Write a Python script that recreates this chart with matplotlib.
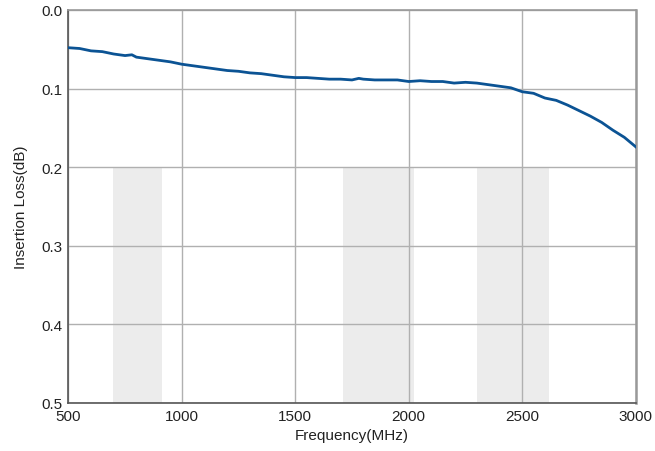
import numpy as np
import matplotlib.pyplot as plt

plt.rcParams['font.family'] = ['Liberation Sans', 'DejaVu Sans']

freq = [500, 550, 600, 650, 700, 750, 780, 800, 850, 900, 950, 1000, 1050, 1100,
        1150, 1200, 1250, 1300, 1350, 1400, 1450, 1500, 1550, 1600, 1650, 1700,
        1750, 1780, 1800, 1850, 1900, 1950, 2000, 2050, 2100, 2150, 2200, 2250,
        2300, 2350, 2400, 2450, 2500, 2550, 2600, 2650, 2700, 2750, 2800, 2850,
        2900, 2950, 3000]
loss = [0.048, 0.049, 0.052, 0.053, 0.056, 0.058, 0.057, 0.060, 0.062, 0.064,
        0.066, 0.069, 0.071, 0.073, 0.075, 0.077, 0.078, 0.080, 0.081, 0.083,
        0.085, 0.086, 0.086, 0.087, 0.088, 0.088, 0.089, 0.087, 0.088, 0.089,
        0.089, 0.089, 0.091, 0.090, 0.091, 0.091, 0.093, 0.092, 0.093, 0.095,
        0.097, 0.099, 0.104, 0.106, 0.112, 0.115, 0.121, 0.128, 0.135, 0.143,
        0.153, 0.162, 0.174]

bands = [(698, 915), (1710, 2025), (2300, 2620)]

fig = plt.figure(figsize=(6.55, 4.52), dpi=100)
ax = fig.add_axes([0.1043, 0.1062, 0.8662, 0.8695])

for lo, hi in bands:
    ax.fill_between([lo, hi], 0.2, 0.5, color='#ececec', lw=0, zorder=0)

ax.plot(freq, loss, color='#0b5394', lw=2.0, zorder=3)

ax.set_xlim(500, 3000)
ax.set_ylim(0.5, 0.0)
ax.set_xticks(np.arange(500, 3001, 500))
ax.set_yticks(np.arange(0, 0.51, 0.1))
ax.set_yticklabels(['0.0', '0.1', '0.2', '0.3', '0.4', '0.5'])
ax.grid(color='#b0b0b0', lw=1.0, zorder=1)
ax.set_axisbelow(True)
ax.tick_params(length=0, labelsize=11, pad=4, colors='#222222')

for s in ['left', 'bottom']:
    ax.spines[s].set_color('#555555')
    ax.spines[s].set_linewidth(1.2)
for s in ['top', 'right']:
    ax.spines[s].set_color('#999999')
    ax.spines[s].set_linewidth(1.2)
ax.spines['right'].set_linewidth(1.8)

ax.set_xlabel('Frequency(MHz)', fontsize=11, labelpad=4, color='#222222')
ax.set_ylabel('Insertion Loss(dB)', fontsize=11, labelpad=10, color='#222222')

fig.savefig('out.png', dpi=100)
